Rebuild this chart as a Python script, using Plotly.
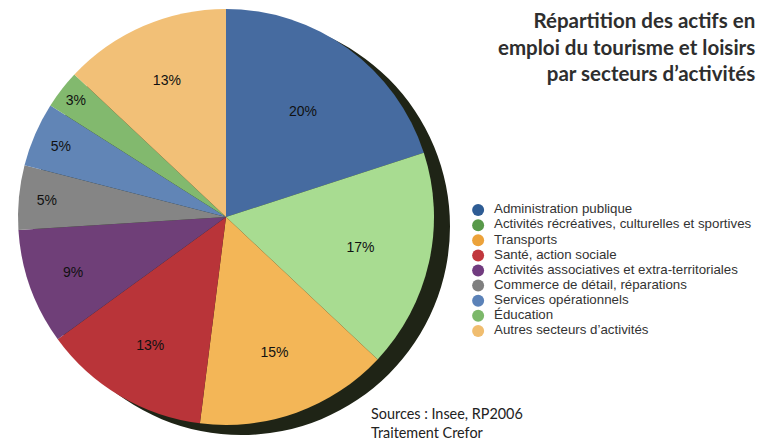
import plotly.graph_objects as go

categories = [
    "Administration publique",
    "Activités récréatives, culturelles et sportives",
    "Transports",
    "Santé, action sociale",
    "Activités associatives et extra-territoriales",
    "Commerce de détail, réparations",
    "Services opérationnels",
    "Éducation",
    "Autres secteurs d\u2019activités",
]
values = [20, 17, 15, 13, 9, 5, 5, 3, 13]
slice_colors = ["#466ba0", "#a8dc91", "#f3b657", "#b93439", "#6f3f78",
                "#858585", "#6185b6", "#82b96e", "#f2c077"]
legend_colors = ["#2e5c94", "#58994a", "#eca23a", "#c1373d", "#713b7f",
                 "#7f7f7f", "#5b82b8", "#7cb86a", "#f0bd6f"]
title_text = "<b>Répartition des actifs en<br>emploi du tourisme et loisirs<br>par secteurs d\u2019activités</b>"
source_text = "Sources : Insee, RP2006<br>Traitement Crefor"

W, H = 765, 441
cx, cy, r = 226, 217, 208

fig = go.Figure()

fig.add_trace(go.Pie(
    labels=categories,
    values=values,
    sort=False,
    direction="clockwise",
    rotation=0,
    marker=dict(colors=slice_colors, line=dict(width=0)),
    texttemplate="%{value}%",
    textposition="inside",
    insidetextorientation="horizontal",
    textfont=dict(family="Liberation Sans, Arial", size=14, color="#111111"),
    domain=dict(x=[(cx - r) / W, (cx + r) / W], y=[1 - (cy + r) / H, 1 - (cy - r) / H]),
    showlegend=False,
    hoverinfo="label+percent",
))

# legend built as a scatter on a hidden axis
fig.add_trace(go.Scatter(
    x=[0] * len(categories),
    y=categories,
    mode="markers+text",
    text=["\u00a0\u00a0" + c for c in categories],
    textposition="middle right",
    marker=dict(size=12, color=legend_colors),
    textfont=dict(family="Liberation Sans, Arial", size=13.3, color="#333333"),
    cliponaxis=False,
    showlegend=False,
    hoverinfo="skip",
))

fig.update_layout(
    width=W, height=H,
    margin=dict(l=0, r=0, t=0, b=0),
    paper_bgcolor="white",
    plot_bgcolor="rgba(0,0,0,0)",
    showlegend=False,
    xaxis=dict(visible=False, domain=[0.6, 1.0], range=[-1, 15], fixedrange=True),
    yaxis=dict(visible=False, type="category", categoryorder="array", categoryarray=categories,
               range=[8.5, -0.5], domain=[1 - 338.5 / H, 1 - 202.5 / H], fixedrange=True),
    shapes=[dict(
        type="circle", xref="paper", yref="paper", layer="below",
        x0=(cx + 15 - r) / W, x1=(cx + 15 + r + 1) / W,
        y0=1 - (cy + 9 + r + 1) / H, y1=1 - (cy + 9 - r) / H,
        fillcolor="#1f2416", line=dict(width=0),
    )],
    annotations=[
        dict(text=title_text, xref="paper", yref="paper", x=757 / W, y=1 - 6 / H,
             xanchor="right", yanchor="top", align="right", showarrow=False,
             font=dict(family="Lato", size=20.5, color="#2e2e2e")),
        dict(text=source_text, xref="paper", yref="paper", x=369 / W, y=1 - 403 / H,
             xanchor="left", yanchor="top", align="left", showarrow=False,
             font=dict(family="Lato", size=14.4, color="#222222")),
    ],
)

fig.write_html("out.html", config={"displayModeBar": False},
               post_script="document.body.style.margin='0';document.body.style.padding='0';")
